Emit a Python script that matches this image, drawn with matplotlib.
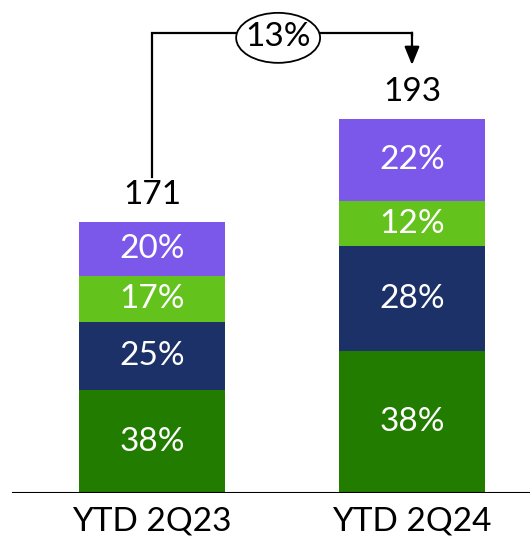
import matplotlib.pyplot as plt
from matplotlib.patches import Ellipse
import numpy as np

# %% Data
categories = ['YTD 2Q23', 'YTD 2Q24']
totals = [171, 193]
growth_label = '13%'
# shares of each total, bottom to top (%)
share_a = [38, 38]
share_b = [25, 28]
share_c = [17, 12]
share_d = [20, 22]
colors = ['#227c00', '#1b3168', '#63c21b', '#7b58ea']

# bars are drawn on a truncated scale (visual offset)
axis_base = 113

plt.rcParams['font.family'] = ['Lato', 'DejaVu Sans']
fs = 24

fig = plt.figure(figsize=(5.3, 5.44), dpi=100)
ax = fig.add_axes([0, 51 / 544, 1, 493 / 544])

x = np.arange(len(categories))
visible = np.array(totals) - axis_base
bottom = np.zeros(len(categories))
for shares, col in zip([share_a, share_b, share_c, share_d], colors):
    h = visible * np.array(shares) / 100
    ax.bar(x, h, bottom=bottom, width=0.565, color=col, zorder=2)
    for xi, hi, bi, s in zip(x, h, bottom, shares):
        ax.text(xi, bi + hi / 2, f'{s}%', ha='center', va='center',
                color='white', fontsize=fs)
    bottom = bottom + h

# totals above the bars
for xi, top, t in zip(x, bottom, totals):
    ax.text(xi, top + 5.8, str(t), ha='center', va='center', fontsize=fs)

# growth connector
y_line = bottom.max() + 18.5
ax.plot([x[0], x[0], x[1], x[1]], [bottom[0] + 9.6, y_line, y_line, y_line - 0.5],
        color='black', lw=1.6, zorder=3, solid_joinstyle='miter')
ax.annotate('', xy=(x[1], bottom[1] + 11.6), xytext=(x[1], y_line),
            arrowprops=dict(arrowstyle='-|>,head_length=1.1,head_width=0.45',
                            color='black', lw=1.6, shrinkA=0, shrinkB=0),
            zorder=3)
ell = Ellipse((0.485, y_line - 1.1), 0.323, 10.7, facecolor='white',
              edgecolor='black', lw=1.3, zorder=4)
ax.add_patch(ell)
ax.text(0.485, y_line - 1.0, growth_label, ha='center', va='center',
        fontsize=fs, zorder=5)

ax.axhline(0, xmin=13 / 530, xmax=1, color='black', lw=1.5, zorder=3)

ax.set_xlim(-0.585, 1.454)
ax.set_ylim(0, 105.5)
ax.set_xticks(x)
ax.set_xticklabels(categories, fontsize=fs)
ax.tick_params(axis='x', length=0, pad=10)
ax.set_yticks([])
for sp in ax.spines.values():
    sp.set_visible(False)

plt.savefig('out.png', dpi=100)
